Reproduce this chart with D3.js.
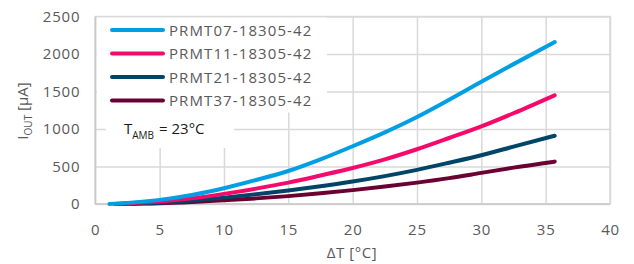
<!DOCTYPE html>
<html>
<head>
<meta charset="utf-8">
<script src="https://cdn.jsdelivr.net/npm/d3@7"></script>
<style>
  body { margin: 0; background: #fff; }
  svg text { font-family: "Open Sans", sans-serif; }
</style>
</head>
<body>
<svg id="chart" width="634" height="264"></svg>
<script>
// ΔT values [°C] sampled along each curve
const dtPRMT07 = [1.1, 2.5, 5, 7.5, 10, 12.5, 15, 17.5, 20, 22.5, 25, 27.5, 30, 32.5, 35.7];
const dtPRMT11 = [1.5, 2.5, 5, 7.5, 10, 12.5, 15, 17.5, 20, 22.5, 25, 27.5, 30, 32.5, 35.7];
const dtPRMT21 = [1.8, 2.5, 5, 7.5, 10, 12.5, 15, 17.5, 20, 22.5, 25, 27.5, 30, 32.5, 35.7];
const dtPRMT37 = [2.0, 2.5, 5, 7.5, 10, 12.5, 15, 17.5, 20, 22.5, 25, 27.5, 30, 32.5, 35.7];

// I_OUT values [µA]
const ioutPRMT07 = [0, 15, 55, 120, 210, 320, 440, 595, 770, 955, 1160, 1390, 1630, 1865, 2160];
const ioutPRMT11 = [0, 8, 32, 75, 135, 205, 285, 380, 480, 595, 730, 880, 1035, 1210, 1450];
const ioutPRMT21 = [0, 4, 18, 46, 85, 130, 180, 237, 300, 372, 455, 550, 650, 765, 910];
const ioutPRMT37 = [0, 2, 10, 27, 50, 75, 105, 142, 185, 232, 285, 345, 415, 485, 565];

const seriesNames = ['PRMT07-18305-42', 'PRMT11-18305-42', 'PRMT21-18305-42', 'PRMT37-18305-42'];
const seriesColors = ['#009fe3', '#f50a6b', '#004567', '#6b0032'];

const xTicks = [0, 5, 10, 15, 20, 25, 30, 35, 40];
const yTicks = [0, 500, 1000, 1500, 2000, 2500];

const series = [
  { name: seriesNames[0], color: seriesColors[0], xs: dtPRMT07, ys: ioutPRMT07 },
  { name: seriesNames[1], color: seriesColors[1], xs: dtPRMT11, ys: ioutPRMT11 },
  { name: seriesNames[2], color: seriesColors[2], xs: dtPRMT21, ys: ioutPRMT21 },
  { name: seriesNames[3], color: seriesColors[3], xs: dtPRMT37, ys: ioutPRMT37 },
];

const margin = { top: 16.5, right: 24, bottom: 60, left: 95.3 };
const width = 634, height = 264;

const svg = d3.select('#chart');

const x = d3.scaleLinear().domain([0, 40]).range([margin.left, width - margin.right]);
const y = d3.scaleLinear().domain([0, 2500]).range([height - margin.bottom, margin.top]);

const gridColor = '#d9d9d9';
const textColor = '#595959';

// Gridlines
svg.append('g')
  .attr('class', 'grid-x')
  .attr('transform', `translate(0,${y(0)})`)
  .call(d3.axisBottom(x).tickValues(xTicks).tickSize(-(y(0) - y(2500))).tickFormat(''))
  .call((g) => g.select('.domain').remove())
  .call((g) => g.selectAll('line').attr('stroke', gridColor).attr('stroke-width', 1.5));

svg.append('g')
  .attr('class', 'grid-y')
  .attr('transform', `translate(${x(0)},0)`)
  .call(d3.axisLeft(y).tickValues(yTicks).tickSize(-(x(40) - x(0))).tickFormat(''))
  .call((g) => g.select('.domain').remove())
  .call((g) => g.selectAll('line').attr('stroke', gridColor).attr('stroke-width', 1.5));

// Plot border
svg.append('rect')
  .attr('x', x(0)).attr('y', y(2500))
  .attr('width', x(40) - x(0)).attr('height', y(0) - y(2500))
  .attr('fill', 'none')
  .attr('stroke', gridColor)
  .attr('stroke-width', 1.5);

// Axis lines (bottom/left slightly darker)
svg.append('line')
  .attr('x1', x(0)).attr('x2', x(40)).attr('y1', y(0)).attr('y2', y(0))
  .attr('stroke', '#c8c8c8').attr('stroke-width', 1.5);
svg.append('line')
  .attr('x1', x(0)).attr('x2', x(0)).attr('y1', y(0)).attr('y2', y(2500))
  .attr('stroke', '#c8c8c8').attr('stroke-width', 1.5);

// Tick labels
svg.append('g')
  .attr('transform', `translate(0,${y(0)})`)
  .call(d3.axisBottom(x).tickValues(xTicks).tickSize(0).tickPadding(20))
  .call((g) => g.select('.domain').remove())
  .call((g) => g.selectAll('text')
    .attr('fill', textColor)
    .style('font-size', '15px')
    .style('letter-spacing', '0.8px'));

svg.append('g')
  .attr('transform', `translate(${x(0)},0)`)
  .call(d3.axisLeft(y).tickValues(yTicks).tickSize(0).tickPadding(15).tickFormat(d3.format('d')))
  .call((g) => g.select('.domain').remove())
  .call((g) => g.selectAll('text')
    .attr('fill', textColor)
    .style('font-size', '15px')
    .style('letter-spacing', '0.8px'));

// Legend and annotation backgrounds (hide gridlines)
svg.append('rect')
  .attr('x', 97).attr('y', 17.5).attr('width', 230).attr('height', 95)
  .attr('fill', '#fff');
svg.append('rect')
  .attr('x', 106).attr('y', 112).attr('width', 128).attr('height', 36)
  .attr('fill', '#fff');

// Lines
const line = d3.line()
  .x((d) => x(d[0]))
  .y((d) => y(d[1]))
  .curve(d3.curveMonotoneX);

svg.append('g')
  .selectAll('path')
  .data(series.slice().reverse())
  .join('path')
    .attr('d', (s) => line(s.xs.map((v, i) => [v, s.ys[i]])))
    .attr('fill', 'none')
    .attr('stroke', (s) => s.color)
    .attr('stroke-width', 4)
    .attr('stroke-linecap', 'round');

// Legend
const legend = svg.append('g').attr('class', 'legend');
const rows = legend.selectAll('g')
  .data(series)
  .join('g')
    .attr('transform', (d, i) => `translate(112,${30 + i * 23.5})`);

rows.append('line')
  .attr('x1', 0).attr('x2', 51)
  .attr('stroke', (d) => d.color)
  .attr('stroke-width', 4)
  .attr('stroke-linecap', 'round');

rows.append('text')
  .attr('x', 57).attr('y', 5.5)
  .attr('fill', textColor)
  .style('font-size', '15px')
  .style('letter-spacing', '1.1px')
  .text((d) => d.name);

// Ambient temperature note
const note = svg.append('text')
  .attr('x', 124).attr('y', 134)
  .attr('fill', '#1a1a1a')
  .style('font-size', '15px');
note.append('tspan').text('T');
note.append('tspan').attr('dy', 5).style('font-size', '10px').text('AMB');
note.append('tspan').attr('dy', -5).attr('dx', 5).text('= 23°C');

// Axis titles
svg.append('text')
  .attr('x', 352).attr('y', 258)
  .attr('text-anchor', 'middle')
  .attr('fill', textColor)
  .style('font-size', '15px')
  .style('letter-spacing', '0.6px')
  .text('ΔT [°C]');

const yTitle = svg.append('text')
  .attr('transform', 'translate(28,111) rotate(-90)')
  .attr('text-anchor', 'middle')
  .attr('fill', textColor)
  .style('font-size', '15px');
yTitle.append('tspan').text('I');
yTitle.append('tspan').attr('dy', 4).style('font-size', '10px').text('OUT');
yTitle.append('tspan').attr('dy', -4).text(' [µA]');
</script>
</body>
</html>
